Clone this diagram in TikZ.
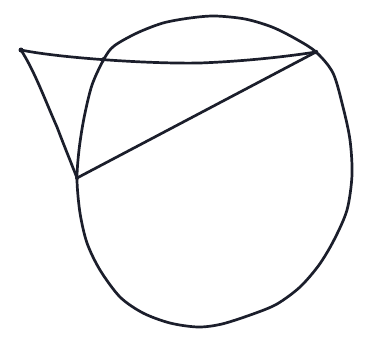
\documentclass[tikz,border=0pt]{standalone}
\begin{document}
\begin{tikzpicture}[x=1pt,y=-1pt,
  ink/.style={draw=inkc,line width=2.7pt,line cap=round,line join=round},
  dotpt/.style={fill=inkc,circle,inner sep=0pt,minimum size=5pt}]
\definecolor{inkc}{HTML}{1B1E2B}
\useasboundingbox (0,0) rectangle (367,338);
\coordinate (P) at (21,50);
\coordinate (A) at (104,59);
\coordinate (B) at (316,52);
\coordinate (T) at (77,178);
% circle (hand drawn)
\draw[ink] plot[smooth cycle,tension=0.5] coordinates {
 (104,59) (114,46) (137,33) (163,23) (190,18) (215,16) (245,19) (272,27)
 (296,39) (316,52) (333,73) (343,107) (350,140) (352,175) (347,210)
 (334,240) (319,265) (300,287) (277,304) (253,314) (222,324) (198,327)
 (170,323) (143,313) (120,297) (100,270) (87,243) (80,213) (77,180)
 (79,150) (84,118) (92,85)};
% secant
\draw[ink] (P) .. controls (60,58) and (150,64) .. (200,63) .. controls (250,61) and (290,56) .. (B);
% chord
\draw[ink] (B) -- (T);
% side line
\draw[ink] (P) .. controls (35,72) and (45,100) .. (57,127) .. controls (65,148) and (72,165) .. (T);
\node[dotpt] (p) at (P) {};
\node[dotpt,minimum size=4.5pt] (a) at (A) {};
\node[dotpt,minimum size=4.5pt] (b) at (B) {};
\node[dotpt,minimum size=4pt] (t) at (T) {};
\end{tikzpicture}
\end{document}
